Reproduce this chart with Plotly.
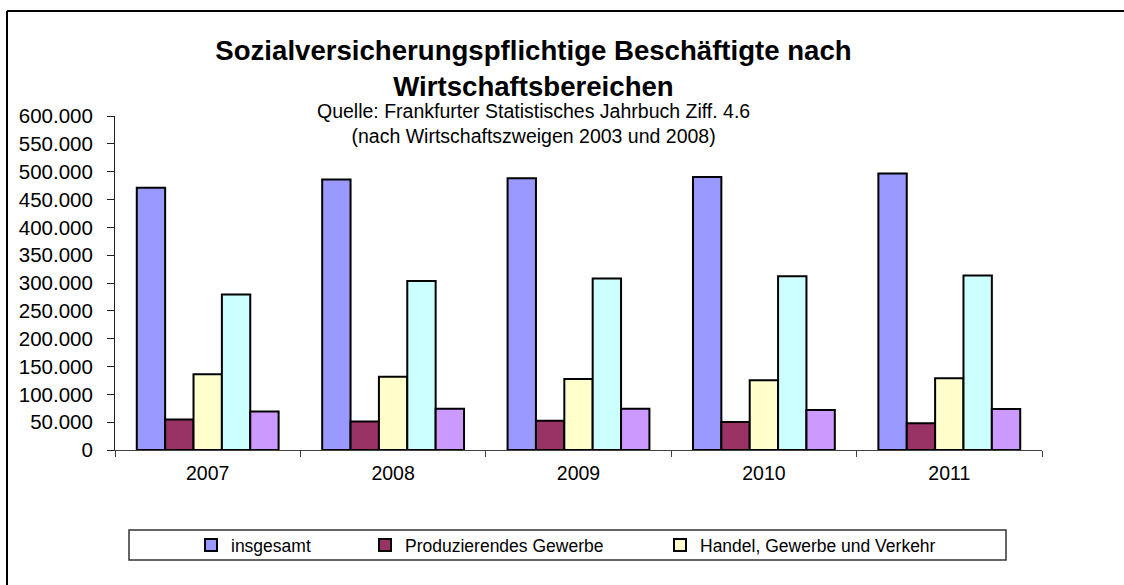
import plotly.graph_objects as go

# ---- data ----
years = ["2007", "2008", "2009", "2010", "2011"]
insgesamt = [471000, 486000, 488000, 490500, 496500]
produzierendes_gewerbe = [55000, 51000, 52500, 50500, 48000]
handel_gewerbe_verkehr = [136000, 131500, 127500, 125500, 129000]
finanzierung_vermietung = [279500, 303500, 308000, 312000, 313500]
oeffentliche_private_dl = [69000, 74000, 74000, 72000, 73500]

series_names = [
    "insgesamt",
    "Produzierendes Gewerbe",
    "Handel, Gewerbe und Verkehr",
    "Finanzierung, Vermietung und Unternehmensdienstleister",
    "Öffentliche und private Dienstleister",
]
series_values = [insgesamt, produzierendes_gewerbe, handel_gewerbe_verkehr,
                 finanzierung_vermietung, oeffentliche_private_dl]
colors = ["#9999FF", "#993366", "#FFFFCC", "#CCFFFF", "#CC99FF"]
show_in_legend = [True, True, True, False, False]
legend_widths = [129, 250, 240, 100, 100]

title_text = "<b>Sozialversicherungspflichtige Beschäftigte nach<br>Wirtschaftsbereichen</b>"
subtitle_text = "Quelle: Frankfurter Statistisches Jahrbuch Ziff. 4.6<br>(nach Wirtschaftszweigen 2003 und 2008)"

FONT = "Arial, 'Liberation Sans', sans-serif"

fig = go.Figure()
for name, vals, col, show, lw in zip(series_names, series_values, colors, show_in_legend, legend_widths):
    fig.add_trace(go.Bar(
        x=years, y=vals, name=name,
        marker=dict(color=col, line=dict(color="black", width=2)),
        showlegend=show, legendwidth=lw,
    ))

# body margin is removed by the post script, so figure px == page px
W, H = 1124, 585
L, T = 115, 116          # plot area left / top
PR, PB = 1042, 450       # plot area right / bottom
R, B = W - PR, H - PB
pw, ph = PR - L, PB - T

def px_x(x):
    return (x - L) / pw

def px_y(y):
    return (PB - y) / ph

fig.update_layout(
    width=W, height=H,
    margin=dict(l=L, r=R, t=T, b=B, autoexpand=False),
    paper_bgcolor="white", plot_bgcolor="white",
    barmode="group", bargap=0.235, bargroupgap=0,
    separators=",.",
    font=dict(family=FONT, color="black"),
    title=dict(
        text=title_text,
        font=dict(family=FONT, size=27.6, color="black"),
        xref="paper", x=px_x(533.5), xanchor="center",
        yref="container", y=1 - 60 / H, yanchor="middle",
    ),
    legend=dict(
        orientation="h",
        x=px_x(191), xanchor="left",
        y=(px_y(530) + px_y(560)) / 2, yanchor="middle",
        font=dict(family=FONT, size=17.5, color="black"),
        bgcolor="rgba(0,0,0,0)", borderwidth=0,
        traceorder="normal",
    ),
    xaxis=dict(
        type="category",
        showline=True, linecolor="#404040", linewidth=1,
        ticks="outside", tickson="boundaries", ticklen=6, tickcolor="#404040",
        tickfont=dict(family=FONT, size=19.5, color="black"),
        ticklabelstandoff=6,
        showgrid=False, zeroline=False,
    ),
    yaxis=dict(
        range=[0, 600000], dtick=50000, tick0=0,
        tickformat=",d",
        showline=True, linecolor="#202020", linewidth=1,
        ticks="outside", ticklen=7, tickcolor="#202020",
        tickfont=dict(family=FONT, size=20.5, color="black"),
        ticklabelstandoff=10,
        showgrid=False, zeroline=False,
    ),
    annotations=[
        dict(text=subtitle_text, xref="paper", yref="paper",
             x=px_x(533.5), y=px_y(123), xanchor="center", yanchor="middle",
             showarrow=False, font=dict(family=FONT, size=19.5, color="black")),
    ],
    shapes=[
        # outer chart border (top and left edges)
        dict(type="line", xref="paper", yref="paper",
             x0=px_x(7), x1=px_x(W + 10), y0=px_y(11), y1=px_y(11),
             line=dict(color="black", width=2)),
        dict(type="line", xref="paper", yref="paper",
             x0=px_x(7), x1=px_x(7), y0=px_y(11), y1=px_y(H + 10),
             line=dict(color="black", width=2)),
        # legend box
        dict(type="rect", xref="paper", yref="paper",
             x0=px_x(129), x1=px_x(1006), y0=px_y(560), y1=px_y(530),
             line=dict(color="#333333", width=1.5), fillcolor="rgba(0,0,0,0)"),
    ],
)

fig.write_html(
    "out.html",
    config={"displayModeBar": False},
    post_script="document.body.style.margin='0';document.body.style.overflow='hidden';",
)
